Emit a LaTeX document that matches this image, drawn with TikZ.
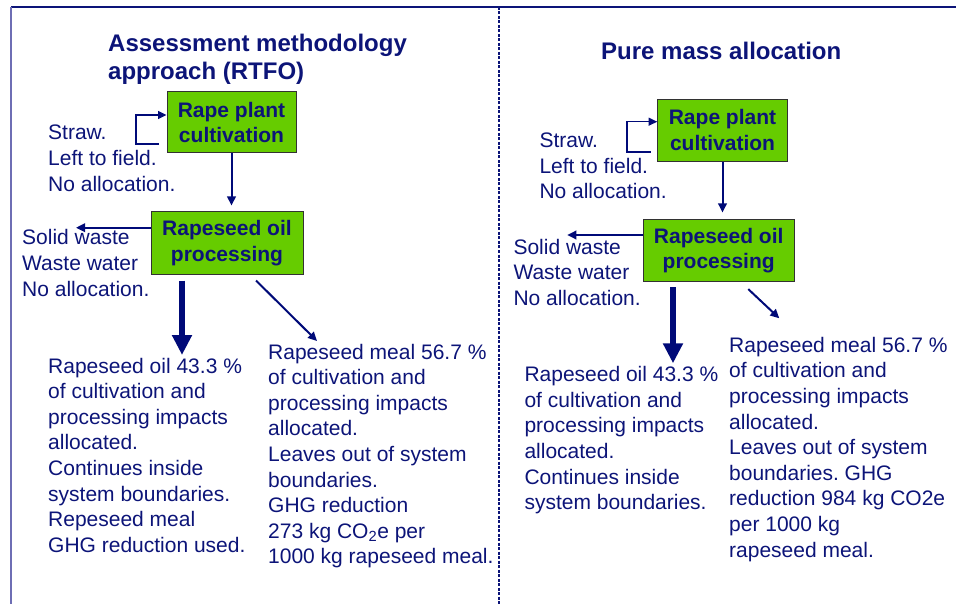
\documentclass[tikz,border=0pt]{standalone}
\usepackage{fontspec}
\setmainfont{Liberation Sans}
\usetikzlibrary{arrows.meta,calc}
\frenchspacing
\definecolor{navy}{RGB}{12,20,120}
\definecolor{arrowblue}{RGB}{0,10,120}
\definecolor{boxgreen}{RGB}{102,204,0}
\definecolor{boxedge}{RGB}{50,50,50}
\definecolor{framel}{RGB}{110,110,180}
\newcommand\blockL[1]{\vtop{\halign{##\hfil\cr#1\crcr}}}
\tikzset{
  txt/.style={inner sep=0pt, anchor=base west, text=navy, font={\frenchspacing\fontsize{21}{25.6}\selectfont}},
  ttl/.style={inner sep=0pt, anchor=base west, text=navy, font={\fontsize{24}{28}\selectfont\bfseries}},
  procbox/.style={draw=boxedge, line width=1pt, fill=boxgreen, inner sep=0pt, text=navy, align=center,
    font={\fontsize{21}{25.5}\selectfont\bfseries}},
  arr/.style={draw=arrowblue, line width=2pt, -{Triangle[length=9pt,width=8.5pt]}},
  bracket/.style={draw=arrowblue, line width=1.1pt, -{Triangle[length=8.5pt,width=8pt]}},
  thickarr/.style={draw=arrowblue, line width=6pt, -{Triangle[length=20pt,width=19pt]}}
}
\begin{document}
\begin{tikzpicture}[x=1pt,y=-1pt]
\useasboundingbox (0,0) rectangle (956,604);
% frame
\draw[navy, line width=1.5pt] (11,7) -- (956,7);
\draw[framel, line width=1.2pt] (11,7) -- (11,604);
\draw[navy, line width=1.3pt, dash pattern=on 3pt off 1.5pt] (499,7) -- (499,604);

% ---------------- left panel ----------------
\node[ttl] (t1) at (108,52) {\blockL{Assessment methodology\cr approach (RTFO)}};
\node[procbox, minimum width=129pt, minimum height=61pt] (r1a) at (231.5,122.5) {Rape plant\\cultivation};
\node[procbox, minimum width=152pt, minimum height=62pt] (r1b) at (227,243) {Rapeseed oil\\processing};
\node[txt] (straw1) at (48,140) {\blockL{Straw.\cr Left to field.\cr No allocation.}};
\node[txt] (waste1) at (22,245) {\blockL{Solid waste\cr Waste water\cr No allocation.}};
\node[txt] (oil1t) at (48,373) {\blockL{Rapeseed oil 43.3 \%\cr of cultivation and\cr processing impacts\cr allocated.\cr Continues inside\cr system boundaries.\cr Repeseed meal\cr GHG reduction used.}};
\node[txt] (meal1t) at (268,359) {\blockL{Rapeseed meal 56.7 \%\cr of cultivation and\cr processing impacts\cr allocated.\cr Leaves out of system\cr boundaries.\cr GHG reduction\cr 273 kg CO\textsubscript{2}e per\cr 1000 kg rapeseed meal.}};

\coordinate (br1a) at (159,144);
\coordinate (br1b) at (136,115);
\draw[bracket] (br1a) -- (br1b |- br1a) -- (br1b) -- (br1b -| r1a.west);
\draw[arr, shorten >=6pt] (r1a.south) -- (r1a.south |- r1b.north);
\coordinate (sw1) at (76,227.7);
\draw[arr] (r1b.west |- sw1) -- (sw1);
\coordinate (oil1) at (182,355);
\draw[thickarr] ($(r1b.south -| oil1)+(0,6)$) -- (oil1);
\coordinate (meal1) at (317,341);
\draw[arr] ($(r1b.south)+(29,6)$) -- (meal1);

% ---------------- right panel ----------------
\node[ttl] (t2) at (601,60) {Pure mass allocation};
\node[procbox, minimum width=129.6pt, minimum height=61.7pt] (r2a) at (722.5,130.2) {Rape plant\\cultivation};
\node[procbox, minimum width=151.3pt, minimum height=61.7pt] (r2b) at (718.7,250.8) {Rapeseed oil\\processing};
\node[txt] (straw2) at (539.3,147.7) {\blockL{Straw.\cr Left to field.\cr No allocation.}};
\node[txt] (waste2) at (513.3,254.3) {\blockL{Solid waste\cr Waste water\cr No allocation.}};
\node[txt] (oil2t) at (524.3,381.7) {\blockL{Rapeseed oil 43.3 \%\cr of cultivation and\cr processing impacts\cr allocated.\cr Continues inside\cr system boundaries.}};
\node[txt] (meal2t) at (729,352.3) {\blockL{Rapeseed meal 56.7 \%\cr of cultivation and\cr processing impacts\cr allocated.\cr Leaves out of system\cr boundaries. GHG\cr reduction 984 kg CO2e\cr per 1000 kg\cr rapeseed meal.}};

\coordinate (br2a) at (650.7,152);
\coordinate (br2b) at (627,121.7);
\draw[bracket] (br2a) -- (br2b |- br2a) -- (br2b) -- (br2b -| r2a.west);
\draw[arr, shorten >=7pt] (r2a.south) -- (r2a.south |- r2b.north);
\coordinate (sw2) at (567.3,235);
\draw[arr] (r2b.west |- sw2) -- (sw2);
\coordinate (oil2) at (673,363.3);
\draw[thickarr] ($(r2b.south -| oil2)+(0,5.3)$) -- (oil2);
\coordinate (meal2) at (779.3,318.3);
\draw[arr] ($(r2b.south)+(29.6,7)$) -- (meal2);
\end{tikzpicture}
\end{document}
